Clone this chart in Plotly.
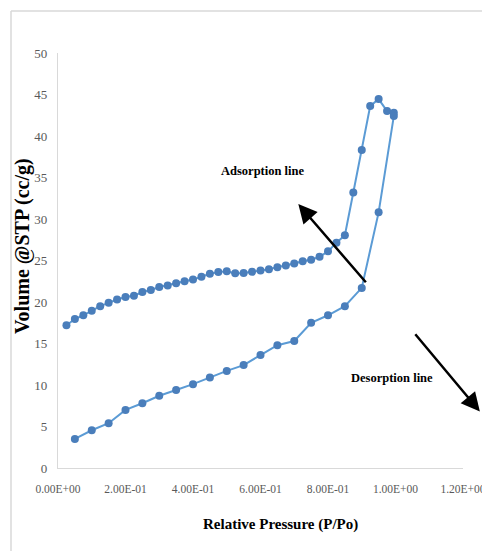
import plotly.graph_objects as go

# Adsorption branch
ads_x = [0.025, 0.05, 0.075, 0.10, 0.125, 0.15, 0.175, 0.20, 0.225, 0.25,
         0.275, 0.30, 0.325, 0.35, 0.375, 0.40, 0.425, 0.45, 0.475, 0.50,
         0.525, 0.55, 0.575, 0.60, 0.625, 0.65, 0.675, 0.70, 0.725, 0.75,
         0.775, 0.80, 0.825, 0.85, 0.875, 0.90, 0.925, 0.95, 0.975, 0.995]
ads_y = [17.2, 17.95, 18.4, 18.95, 19.5, 19.9, 20.3, 20.6, 20.75, 21.2,
         21.45, 21.8, 22.0, 22.25, 22.5, 22.7, 23.05, 23.4, 23.6, 23.7,
         23.45, 23.5, 23.65, 23.8, 23.95, 24.2, 24.4, 24.65, 24.9, 25.1,
         25.45, 26.1, 27.15, 28.05, 33.2, 38.3, 43.6, 44.45, 43.0, 42.8]

# Desorption branch
des_x = [0.995, 0.95, 0.90, 0.85, 0.80, 0.75, 0.70, 0.65, 0.60, 0.55,
         0.50, 0.45, 0.40, 0.35, 0.30, 0.25, 0.20, 0.15, 0.10, 0.05]
des_y = [42.4, 30.8, 21.7, 19.5, 18.4, 17.5, 15.3, 14.8, 13.6, 12.4,
         11.7, 10.9, 10.1, 9.4, 8.7, 7.8, 7.0, 5.4, 4.55, 3.5]

x_tickvals = [0, 0.2, 0.4, 0.6, 0.8, 1.0, 1.2]
x_ticktext = ["0.00E+00", "2.00E-01", "4.00E-01", "6.00E-01", "8.00E-01", "1.00E+00", "1.20E+00"]
y_tickvals = [0, 5, 10, 15, 20, 25, 30, 35, 40, 45, 50]

LINE = "#5b9bd5"
MARK = "#4a7ebb"
SERIF = "Liberation Serif, Times New Roman, serif"

fig = go.Figure()
for xs, ys, nm in [(ads_x, ads_y, "Adsorption"), (des_x, des_y, "Desorption")]:
    fig.add_trace(go.Scatter(
        x=xs, y=ys, mode="lines+markers", name=nm,
        line=dict(color=LINE, width=2),
        marker=dict(color=MARK, size=8),
        cliponaxis=False,
    ))

fig.update_layout(
    width=482, height=551,
    margin=dict(l=58, r=19, t=53, b=83, autoexpand=False),
    paper_bgcolor="white", plot_bgcolor="white",
    showlegend=False,
    font=dict(family=SERIF),
    xaxis=dict(range=[0, 1.2], tickvals=x_tickvals, ticktext=x_ticktext,
               automargin=False,
               showgrid=False, zeroline=False, showline=True,
               linecolor="#d9d9d9", linewidth=1.2, ticks="",
               ticklabelstandoff=10, ticklabeloverflow="allow",
               tickfont=dict(family=SERIF, size=11.5, color="#595959")),
    yaxis=dict(range=[0, 50], tickvals=y_tickvals,
               automargin=False,
               showgrid=False, zeroline=False, showline=True,
               linecolor="#d9d9d9", linewidth=1.2, ticks="",
               ticklabelstandoff=7,
               tickfont=dict(family=SERIF, size=13, color="#595959")),
)

annotations = [
    dict(text="<b>Volume @STP (cc/g)</b>", xref="paper", yref="paper",
         x=(22 - 58) / 405, y=(468 - 246) / 415, textangle=-90, showarrow=False,
         font=dict(family=SERIF, size=20, color="black"),
         xanchor="center", yanchor="middle"),
    dict(text="<b>Relative Pressure (P/Po)</b>", xref="paper", yref="paper",
         x=(280 - 58) / 405, y=(468 - 524) / 415, showarrow=False,
         font=dict(family=SERIF, size=15, color="black"),
         xanchor="center", yanchor="middle"),
    dict(text="<b>Adsorption line</b>", x=0.607, y=35.8, xref="x", yref="y",
         showarrow=False, font=dict(family=SERIF, size=12.5, color="black")),
    dict(text="<b>Desorption line</b>", x=0.99, y=10.9, xref="x", yref="y",
         showarrow=False, font=dict(family=SERIF, size=12.5, color="black")),
    dict(text="", x=0.712, y=31.8, xref="x", yref="y", axref="x", ayref="y",
         ax=0.916, ay=22.2, showarrow=True, arrowhead=2, arrowsize=1.5,
         arrowwidth=2.5, arrowcolor="black"),
    dict(text="", x=1.250, y=6.8, xref="x", yref="y", axref="x", ayref="y",
         ax=1.055, ay=16.3, showarrow=True, arrowhead=2, arrowsize=1.5,
         arrowwidth=2.5, arrowcolor="black"),
]
fig.update_layout(annotations=annotations)

# light chart-area border (top and left edges)
bx = (11 - 58) / 405
by = (468 - 11) / 415
fig.add_shape(type="line", xref="paper", yref="paper", x0=bx, y0=by, x1=1.1, y1=by,
              line=dict(color="#d9d9d9", width=1.5))
fig.add_shape(type="line", xref="paper", yref="paper", x0=bx, y0=by, x1=bx, y1=-0.3,
              line=dict(color="#d9d9d9", width=1.5))

fig.write_html(
    "out.html",
    config={"displayModeBar": False},
    post_script="document.body.style.margin='0';document.body.style.overflow='hidden';",
)
